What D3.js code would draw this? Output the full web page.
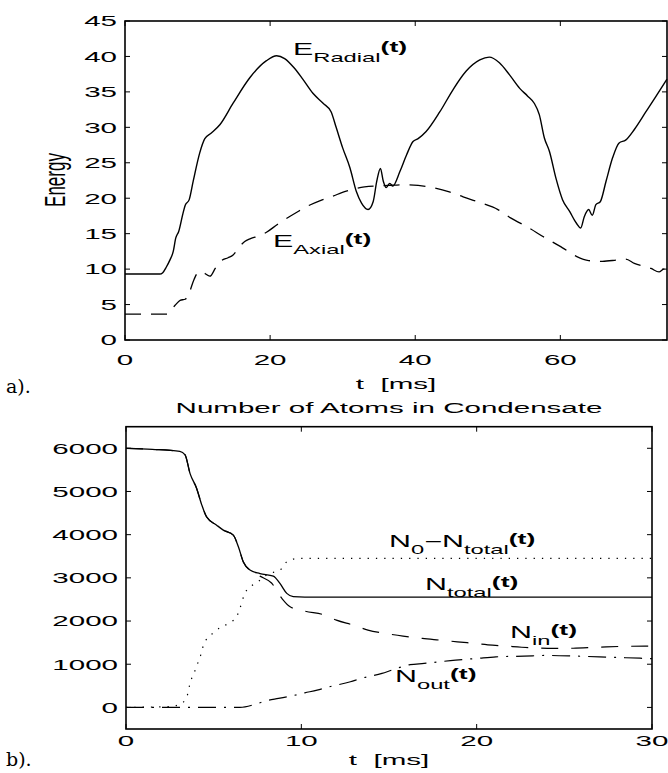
<!DOCTYPE html>
<html>
<head>
<meta charset="utf-8">
<script src="https://cdn.jsdelivr.net/npm/d3@7"></script>
<style>
  body { margin: 0; background: #fff; }
  svg { display: block; }
  text { font-family: "Liberation Sans", Arial, Helvetica, sans-serif; fill: #000; white-space: pre; }
</style>
</head>
<body>
<svg id="chart" width="668" height="773"></svg>
<script>
// panel a) energies
var radialT = [0, 4.8, 5.2, 5.7, 6.2, 6.65, 7.0, 7.4, 8.0, 8.3, 8.85, 9.4, 10.3, 11.0, 11.9, 13.1, 14.9, 17.2, 19.5, 20.9,
  22.0, 23.3, 24.5, 25.9, 27.3, 28.4, 29.1, 30.0, 31.0, 31.9, 32.6, 33.5, 34.2, 34.7, 35.2, 35.6, 36.0, 36.5, 36.9, 37.9,
  38.8, 39.7, 40.4, 41.5, 43.4, 45.2, 47.0, 48.9, 50.2, 51.6, 53.0, 54.4, 55.5, 56.4, 57.1, 57.8, 58.5, 59.4, 60.3, 61.3,
  62.2, 62.8, 63.3, 63.9, 64.4, 64.9, 65.5, 66.3, 67.2, 68.1, 69.0, 70.2, 71.8, 73.2, 74.7]
var radialE = [9.3, 9.3, 9.5, 10.3, 11.3, 12.5, 14.4, 15.3, 17.9, 19.0, 19.8, 22.4, 26.4, 28.4, 29.2, 30.4, 33.4, 37.0, 39.4, 40.1,
  39.7, 38.4, 36.8, 34.8, 33.4, 32.2, 30.0, 27.1, 24.3, 20.9, 19.3, 18.4, 19.5, 22.4, 24.2, 22.4, 21.5, 22.1, 21.7, 23.8,
  26.1, 28.0, 28.4, 29.4, 32.2, 35.3, 37.9, 39.5, 39.9, 39.1, 37.4, 35.5, 34.4, 33.4, 31.8, 28.5, 26.6, 22.8, 19.8, 18.1,
  16.5, 15.8, 17.4, 18.4, 17.6, 19.1, 19.5, 22.4, 25.7, 27.8, 28.2, 29.7, 32.2, 34.4, 36.8]

var axialT = [0, 5.8, 6.9, 7.6, 8.3, 8.9, 9.5, 10.2, 10.8, 11.7, 12.5, 13.3, 14.2, 14.9, 15.8, 16.5, 17.3, 18.5, 19.5, 21.0,
  23.8, 25.2, 27.0, 28.4, 30.5, 33.0, 36.3, 38.5, 40.4, 42.4, 44.7, 46.6, 48.9, 51.4, 53.2, 55.7, 57.6, 60.3, 62.2, 63.9,
  65.8, 67.9, 69.0, 70.2, 72.5, 73.6, 74.2, 74.7]
var axialE = [3.65, 3.65, 4.9, 5.6, 5.75, 6.8, 8.5, 9.65, 9.5, 9.0, 10.2, 11.2, 11.6, 12.0, 13.2, 13.9, 14.3, 14.7, 15.2, 16.3,
  18.1, 18.9, 19.7, 20.2, 21.0, 21.6, 21.8, 21.9, 21.8, 21.5, 20.9, 20.2, 19.4, 18.4, 17.2, 15.8, 14.6, 13.0, 11.8, 11.2,
  11.1, 11.3, 11.4, 10.8, 10.1, 9.6, 10.0, 10.1]

var energyTicksX = [0, 20, 40, 60]
var energyTicksY = [0, 5, 10, 15, 20, 25, 30, 35, 40, 45]

// panel b) atom numbers
var totalT = [0, 1.5, 3.07, 3.37, 3.65, 4.03, 4.32, 4.6, 5.17, 5.55, 6.12, 6.41, 6.69, 7.07, 7.64, 8.4, 8.78, 9.17, 9.54, 10.2, 30]
var totalN = [6000, 5975, 5930, 5850, 5420, 5070, 4690, 4410, 4220, 4105, 3990, 3720, 3370, 3180, 3100, 3040, 2870, 2640, 2565, 2555, 2555]

var inT = [0, 1.5, 3.07, 3.37, 3.65, 4.03, 4.32, 4.6, 5.17, 5.55, 6.12, 6.41, 6.69, 7.07, 7.64, 8.3, 8.9, 9.36, 10.2, 11.35,
  12.0, 12.97, 13.8, 14.8, 15.8, 16.9, 17.9, 18.9, 19.9, 20.9, 21.7, 23.2, 24.4, 25.5, 26.5, 27.4, 29.6, 30]
var inN = [6000, 5975, 5930, 5850, 5420, 5070, 4690, 4410, 4220, 4105, 3990, 3720, 3370, 3170, 3040, 2880, 2520, 2330, 2230, 2136,
  2020, 1905, 1789, 1713, 1650, 1597, 1558, 1519, 1481, 1442, 1419, 1380, 1366, 1370, 1385, 1403, 1419, 1420]

var outT = [0, 6.5, 7.4, 8.0, 8.7, 9.4, 10.2, 10.9, 11.6, 12.8, 13.4, 14.6, 15.2, 16.2, 17.0, 18.8, 20.0, 21.1, 22.7, 24.0,
  25.7, 27.0, 28.5, 30]
var outN = [0, 0, 76, 153, 208, 262, 338, 400, 477, 593, 671, 787, 870, 990, 1018, 1095, 1134, 1171, 1187, 1203,
  1187, 1171, 1150, 1130]

var lostT = [0, 2.5, 3.08, 3.46, 3.56, 3.65, 3.8, 3.99, 4.12, 4.26, 4.37, 4.56, 4.94, 5.36, 5.9, 6.3, 6.46, 6.6, 6.73, 6.98,
  7.45, 8.0, 8.89, 9.17, 9.83, 30]
var lostN = [0, 20, 76, 231, 385, 555, 725, 902, 1056, 1211, 1380, 1558, 1713, 1843, 1958, 2097, 2252, 2421, 2600, 2755,
  2884, 3062, 3217, 3370, 3449, 3449]

var atomTicksX = [0, 10, 20, 30]
var atomTicksY = [0, 1000, 2000, 3000, 4000, 5000, 6000]

var svg = d3.select('#chart')

// the figure is stretched sideways, so the text is too
var SX = 1.97

function stretchText(g, x, y, str, size, anchor, sx) {
  return g.append('text')
    .attr('transform', 'translate(' + x + ',' + y + ') scale(' + (sx || SX) + ',1)')
    .attr('text-anchor', anchor || 'start')
    .attr('xml:space', 'preserve')
    .style('font-size', size + 'px')
    .text(str)
}

// label like N_{sub}(t): parts = [[text, kind]] with kind main|sub|paren
function subLabel(g, x, y, parts) {
  var t = g.append('text')
    .attr('transform', 'translate(' + x + ',' + y + ') scale(1.9,1)')
  var level = 0
  parts.forEach(function (p) {
    var target = p[1] == 'sub' ? 7 : (p[1] == 'paren' ? -3 : 0)
    var span = t.append('tspan').attr('dy', target - level).text(p[0])
    level = target
    if (p[1] == 'sub') span.style('font-size', '12.5px')
    else if (p[1] == 'paren') span.style('font-size', '14px').style('font-weight', 'bold')
    else span.style('font-size', '16px')
  })
  return t
}

function drawBox(g, x, y, ticksX, ticksY, fmt) {
  var r = x.range(), b = y.range()
  ticksX.forEach(function (v) {
    g.append('line').attr('x1', x(v)).attr('x2', x(v)).attr('y1', b[0]).attr('y2', b[0] - 5)
    g.append('line').attr('x1', x(v)).attr('x2', x(v)).attr('y1', b[1]).attr('y2', b[1] + 5)
  })
  ticksY.forEach(function (v) {
    g.append('line').attr('x1', r[0]).attr('x2', r[0] + 5).attr('y1', y(v)).attr('y2', y(v))
    g.append('line').attr('x1', r[1]).attr('x2', r[1] - 5).attr('y1', y(v)).attr('y2', y(v))
  })
  g.selectAll('line').attr('stroke', '#000').attr('stroke-width', 1)
  g.append('rect')
    .attr('x', r[0]).attr('y', b[1])
    .attr('width', r[1] - r[0]).attr('height', b[0] - b[1])
    .attr('fill', 'none').attr('stroke', '#000').attr('stroke-width', 1.6)
  ticksY.forEach(function (v) {
    stretchText(g, r[0] - 8, y(v) + 5.3, fmt(v), 15, 'end')
  })
}

function drawLine(g, x, y, ts, vs, dash, w) {
  var line = d3.line()
    .x(function (d, i) { return x(ts[i]) })
    .y(function (d) { return y(d) })
    .curve(d3.curveMonotoneX)
  g.append('path')
    .attr('d', line(vs))
    .attr('fill', 'none')
    .attr('stroke', '#000')
    .attr('stroke-width', w || 1.3)
    .attr('stroke-dasharray', dash)
}

// ---- panel a)
var xa = d3.scaleLinear().domain([0, 74.7]).range([125, 667])
var ya = d3.scaleLinear().domain([0, 45]).range([340, 21])
var ga = svg.append('g')

drawLine(ga, xa, ya, radialT, radialE, null, 1.4)
drawLine(ga, xa, ya, axialT, axialE, '16,10', 1.3)
drawBox(ga, xa, ya, energyTicksX, energyTicksY, String)

energyTicksX.forEach(function (v) {
  stretchText(ga, xa(v), 365, String(v), 15, 'middle')
})
stretchText(ga, 396, 389, 't  [ms]', 15, 'middle')

ga.append('text')
  .attr('transform', 'translate(65,180) rotate(-90) scale(1,1.7)')
  .attr('text-anchor', 'middle')
  .style('font-size', '17px')
  .text('Energy')

subLabel(ga, 293, 55, [['E', 'main'], ['Radial', 'sub'], ['(t)', 'paren']])
subLabel(ga, 273, 247, [['E', 'main'], ['Axial', 'sub'], ['(t)', 'paren']])

ga.append('text')
  .attr('x', 6).attr('y', 393)
  .style('font-family', '"DejaVu Serif", "Liberation Serif", serif')
  .style('font-size', '19px')
  .text('a).')

// ---- panel b)
var xb = d3.scaleLinear().domain([0, 30]).range([126, 652])
var yb = d3.scaleLinear().domain([-500, 6500]).range([729, 426.7])
var gb = svg.append('g')

drawLine(gb, xb, yb, lostT, lostN, '1.3,7', 1.2)
drawLine(gb, xb, yb, outT, outN, '18,8,2,8', 1.2)
drawLine(gb, xb, yb, inT, inN, '17,13', 1.2)
drawLine(gb, xb, yb, totalT, totalN, null, 1.3)
drawBox(gb, xb, yb, atomTicksX, atomTicksY, String)

atomTicksX.forEach(function (v) {
  stretchText(gb, xb(v), 746, String(v), 15, 'middle')
})
stretchText(gb, 389, 765, 't  [ms]', 15, 'middle')
stretchText(gb, 389, 413, 'Number of Atoms in Condensate', 15, 'middle')

subLabel(gb, 389, 547, [['N', 'main'], ['0', 'sub'], ['\u2212', 'main'], ['N', 'main'], ['total', 'sub'], ['(t)', 'paren']])
subLabel(gb, 425, 590, [['N', 'main'], ['total', 'sub'], ['(t)', 'paren']])
subLabel(gb, 510, 638, [['N', 'main'], ['in', 'sub'], ['(t)', 'paren']])
subLabel(gb, 395, 682, [['N', 'main'], ['out', 'sub'], ['(t)', 'paren']])

gb.append('text')
  .attr('x', 6).attr('y', 766)
  .style('font-family', '"DejaVu Serif", "Liberation Serif", serif')
  .style('font-size', '19px')
  .text('b).')
</script>
</body>
</html>
